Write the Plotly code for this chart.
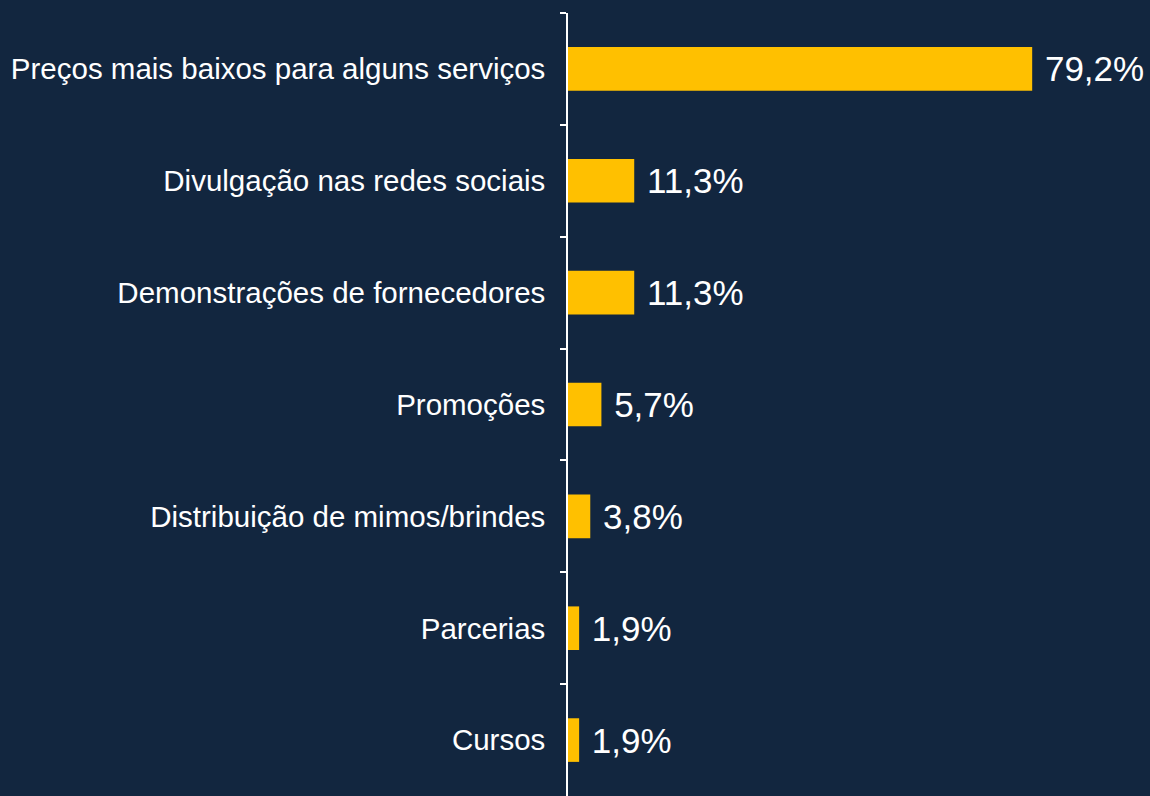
import plotly.graph_objects as go

categories = [
    "Preços mais baixos para alguns serviços",
    "Divulgação nas redes sociais",
    "Demonstrações de fornecedores",
    "Promoções",
    "Distribuição de mimos/brindes",
    "Parcerias",
    "Cursos",
]
values = [79.2, 11.3, 11.3, 5.7, 3.8, 1.9, 1.9]
labels = [(" " + f"{v:.1f}".replace(".", ",") + "%") for v in values]

BG = "#12263f"
BAR = "#ffc000"
FONT = "Liberation Sans, Arial, sans-serif"

fig = go.Figure(
    go.Bar(
        x=values,
        y=categories,
        orientation="h",
        marker=dict(color=BAR, line=dict(width=0)),
        text=labels,
        textposition="outside",
        textfont=dict(family=FONT, size=35, color="white"),
        cliponaxis=False,
        hoverinfo="skip",
    )
)

fig.update_layout(
    width=1150,
    height=796,
    paper_bgcolor=BG,
    plot_bgcolor=BG,
    margin=dict(l=568, r=0, t=13, b=0, pad=0),
    bargap=0.61,
    showlegend=False,
    font=dict(family=FONT, color="white"),
)

fig.update_xaxes(
    range=[0, 99.3],
    showticklabels=False,
    showgrid=False,
    zeroline=False,
    showline=False,
    ticks="",
)

fig.update_yaxes(
    categoryorder="array",
    categoryarray=categories,
    autorange="reversed",
    showline=True,
    linecolor="white",
    linewidth=1.5,
    ticks="outside",
    tickson="boundaries",
    ticklen=6,
    tickwidth=1.5,
    tickcolor="white",
    ticklabelstandoff=15,
    tickfont=dict(family=FONT, size=29.5, color="white"),
    showgrid=False,
    zeroline=False,
)

fig.write_html(
    "out.html",
    config={"displayModeBar": False},
    post_script="document.body.style.margin='0';document.body.style.background='#12263f';",
)
